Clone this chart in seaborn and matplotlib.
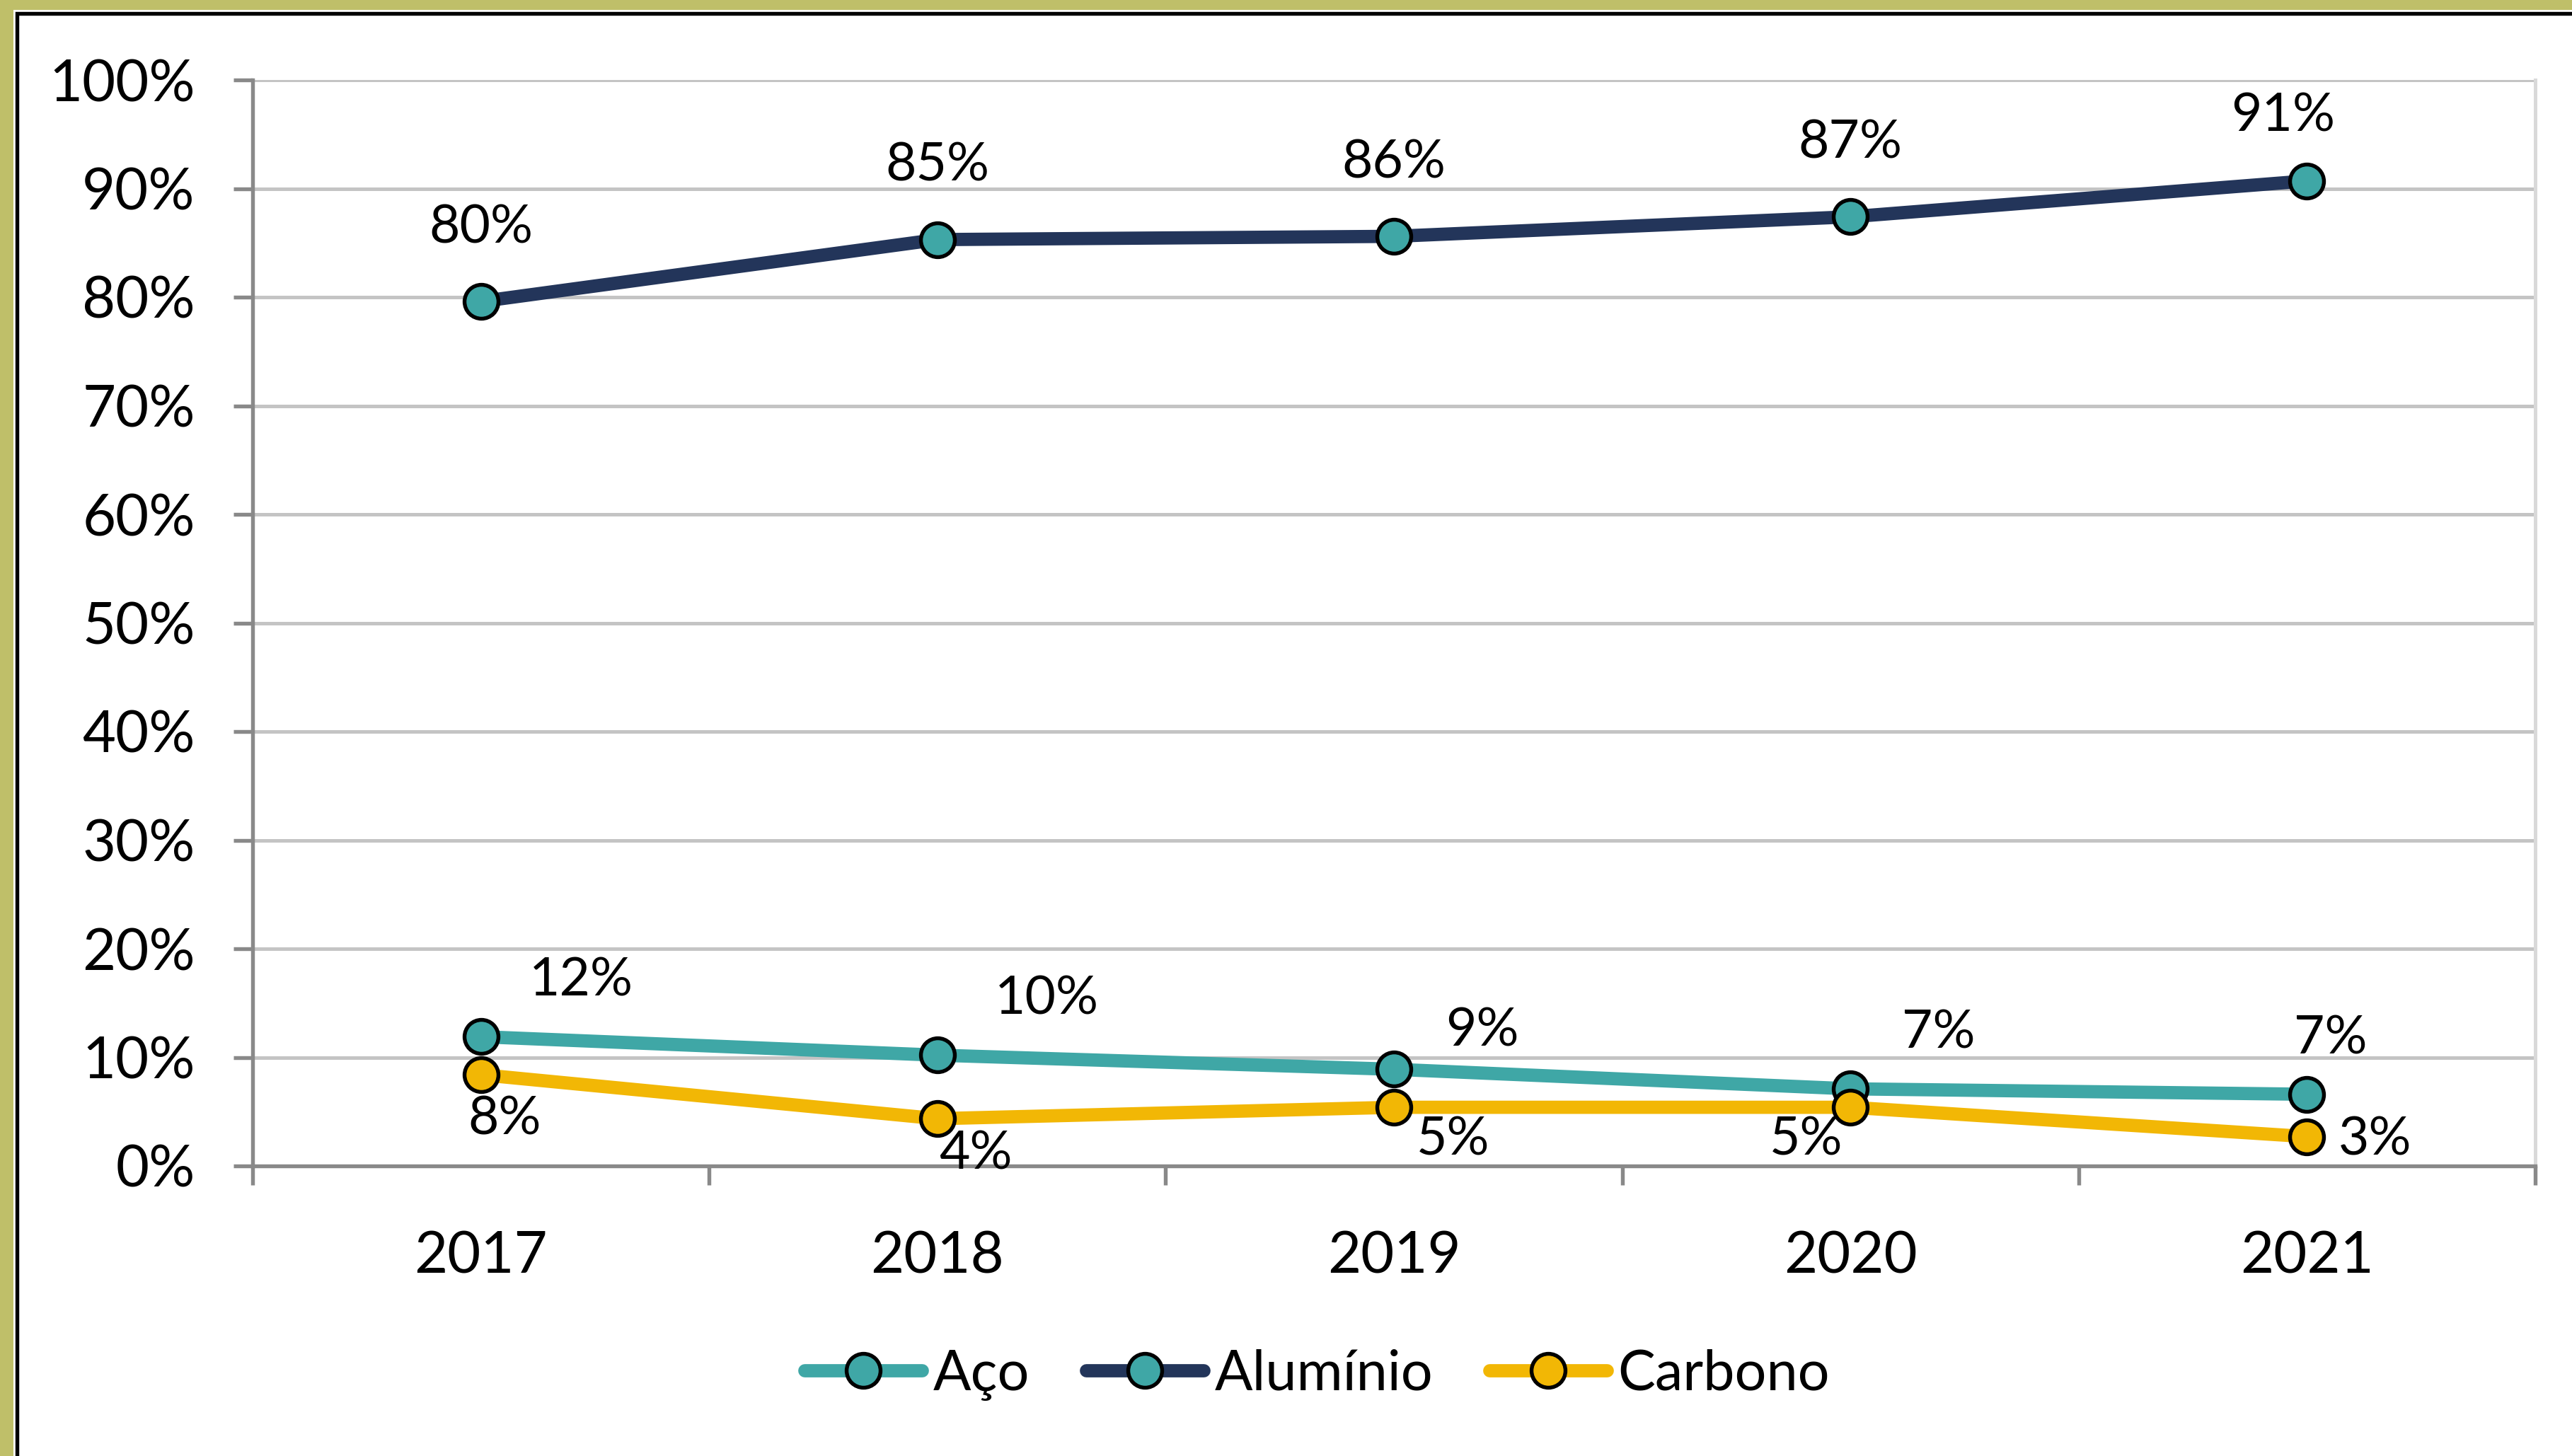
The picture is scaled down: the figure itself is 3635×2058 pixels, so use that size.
import matplotlib
matplotlib.use("Agg")
import matplotlib.pyplot as plt
from matplotlib.patches import Rectangle
from matplotlib.lines import Line2D
import seaborn as sns
import pandas as pd

# ---- data -------------------------------------------------------------
years = ["2017", "2018", "2019", "2020", "2021"]
aco = [11.9, 10.2, 8.9, 7.1, 6.6]
aluminio = [79.6, 85.3, 85.6, 87.4, 90.7]
carbono = [8.4, 4.35, 5.4, 5.4, 2.7]
y_ticks = [0, 10, 20, 30, 40, 50, 60, 70, 80, 90, 100]

# ---- styling ----------------------------------------------------------
sns.set_theme(style="white")
plt.rcParams["font.family"] = ["Lato", "DejaVu Sans"]
plt.rcParams["text.color"] = "black"

TEAL = "#3fa7a6"
NAVY = "#23355a"
GOLD = "#f2b705"
OLIVE = "#bfbf69"
LW = 4.5
MS = 11.5
MEW = 1.3

series = [
    # name, values, line colour, marker face, label offsets (points)
    ("Alumínio", aluminio, NAVY, TEAL,
     [(0, 25), (0, 25), (0, 25), (0, 25), (-8, 22)]),
    ("Aço", aco, TEAL, TEAL,
     [(34, 19), (37, 19), (30, 13), (30, 19), (8, 19)]),
    ("Carbono", carbono, GOLD, GOLD,
     [(8, -15), (13, -12), (20, -11), (-15, -11), (23, -1)]),
]

fig = plt.figure(figsize=(3636 / 300, 2058 / 300), dpi=300)
fig.patch.set_facecolor(OLIVE)

# white card with black frame on the left and top edges
W, H = 3636, 2058
fig.patches.append(Rectangle((19 / W, -0.2), 1.2, 1.2 - 14 / H,
                             transform=fig.transFigure, facecolor="white",
                             edgecolor="none", zorder=-2))
fig.patches.append(Rectangle((24.5 / W, -0.2), 1.2, 1.2 - 18.5 / H,
                             transform=fig.transFigure, facecolor="white",
                             edgecolor="black", linewidth=1.3, zorder=-1))

ax = fig.add_axes([357 / W, 1 - 1648 / H, (3583 - 357) / W, (1648 - 113) / H])
ax.set_facecolor("white")

x = list(range(len(years)))
for name, vals, lc, mf, _ in series:
    df = pd.DataFrame({"x": x, "v": vals})
    sns.lineplot(data=df, x="x", y="v", ax=ax, color=lc, linewidth=LW,
                 marker="o", markersize=MS, markerfacecolor=mf,
                 markeredgecolor="black", markeredgewidth=MEW,
                 zorder=3 if name != "Carbono" else 4, legend=False)

# value labels
for name, vals, lc, mf, offs in series:
    for xi, v, (dx, dy) in zip(x, vals, offs):
        ax.annotate(f"{v:.0f}%", (xi, v), xytext=(dx, dy),
                    textcoords="offset points", ha="center", va="center",
                    fontsize=18, color="black", zorder=5)

# axes
ax.set_xlim(-0.5, len(years) - 0.5)
ax.set_ylim(0, 100)
ax.set_yticks(y_ticks)
ax.set_yticklabels([f"{t}%" for t in y_ticks])
ax.set_xticks(x)
ax.set_xticklabels(years)
ax.set_xticks([i - 0.5 for i in range(len(years) + 1)], minor=True)
ax.set_xlabel("")
ax.set_ylabel("")

ax.grid(axis="y", color="#c4c4c4", linewidth=1.2, zorder=0)
ax.grid(axis="x", visible=False)
ax.set_axisbelow(True)

for side in ("left", "bottom"):
    ax.spines[side].set_color("#898989")
    ax.spines[side].set_linewidth(1.3)
ax.spines["top"].set_visible(False)
ax.spines["right"].set_color("#d9d9d9")
ax.spines["right"].set_linewidth(1.2)

ax.tick_params(axis="y", which="major", direction="out", length=6.5,
               width=1.3, color="#898989", left=True, pad=13,
               labelsize=19.5, labelcolor="black")
ax.tick_params(axis="x", which="major", length=0, pad=22,
               labelsize=19.5, labelcolor="black")
ax.tick_params(axis="x", which="minor", direction="out", length=6.5,
               width=1.3, color="#898989", bottom=True)

# legend
def legend_handle(line_color, face_color):
    return Line2D([], [], color=line_color, linewidth=LW, marker="o",
                  markersize=MS, markerfacecolor=face_color,
                  markeredgecolor="black", markeredgewidth=MEW,
                  solid_capstyle="round")


handles = [legend_handle(TEAL, TEAL), legend_handle(NAVY, TEAL),
           legend_handle(GOLD, GOLD)]
fig.legend(handles, ["Aço", "Alumínio", "Carbono"], loc="center",
           bbox_to_anchor=(0.512, 1 - 1943 / H), ncol=3, frameon=False,
           fontsize=19, handlelength=2.1, handletextpad=0.2,
           columnspacing=1.0, labelcolor="black")

fig.savefig("out.png", dpi=300, facecolor=fig.get_facecolor())
